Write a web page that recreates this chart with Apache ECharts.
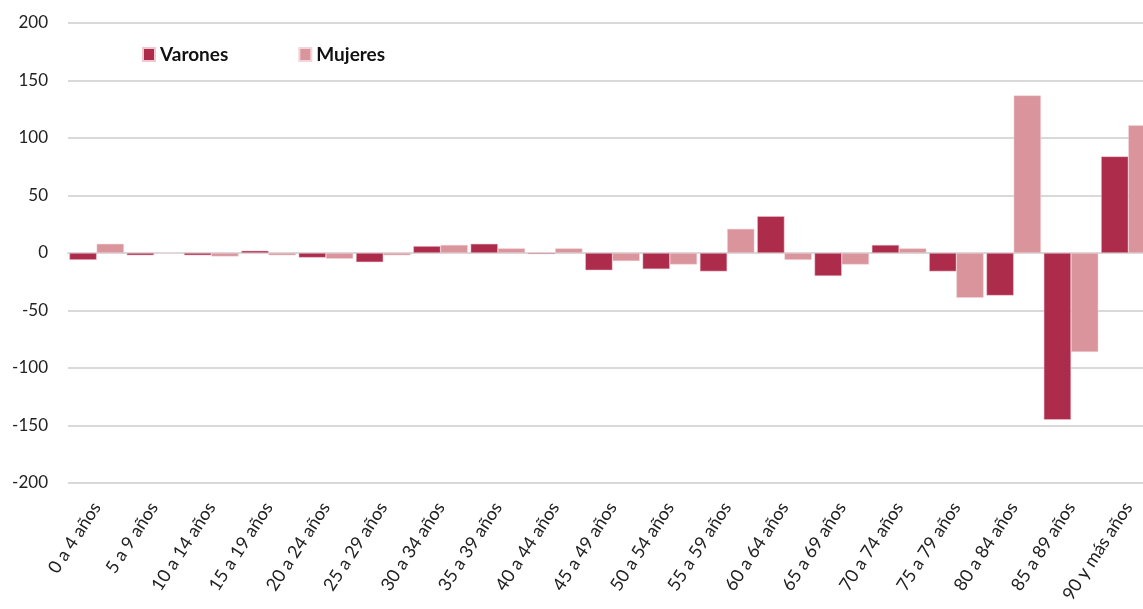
<!DOCTYPE html>
<html>
<head>
<meta charset="utf-8">
<script src="https://cdn.jsdelivr.net/npm/echarts@6/dist/echarts.min.js"></script>
<style>
html,body{margin:0;padding:0;background:#fff;}
#c{width:1143px;height:609px;}
</style>
</head>
<body>
<div id="c"></div>
<script>
const categories = ["0 a 4 años","5 a 9 años","10 a 14 años","15 a 19 años","20 a 24 años","25 a 29 años","30 a 34 años","35 a 39 años","40 a 44 años","45 a 49 años","50 a 54 años","55 a 59 años","60 a 64 años","65 a 69 años","70 a 74 años","75 a 79 años","80 a 84 años","85 a 89 años","90 y más años"];
const varones = [-6, -2, -2, 2, -4, -8, 6, 8, -1, -15, -14, -16, 32, -20, 7, -16, -37, -145, 84];
const mujeres = [8, 0, -3, -2, -5, -2, 7, 4, 4, -7, -10, 21, -6, -10, 4, -39, 137, -86, 111];
const yTicks = {min: -200, max: 200, interval: 50};

const chart = echarts.init(document.getElementById('c'));
chart.setOption({
  animation: false,
  textStyle: {fontFamily: 'Lato, "Open Sans", sans-serif'},
  grid: {left: 68, right: -14, top: 23, bottom: 126, containLabel: false, outerBoundsMode: 'none'},
  legend: {
    left: 137, top: 40,
    itemWidth: 12, itemHeight: 13, itemGap: 70,
    icon: 'rect',
    textStyle: {fontSize: 19, fontWeight: 'bold', color: '#111', fontFamily: 'Lato, sans-serif'},
    data: ['Varones', 'Mujeres']
  },
  xAxis: {
    type: 'category',
    data: categories,
    axisLine: {show: true, onZero: true, lineStyle: {color: '#d9d9d9', width: 2}},
    axisTick: {show: false},
    axisLabel: {rotate: 57, interval: 0, fontSize: 18, color: '#222', margin: 21, fontFamily: 'Lato, sans-serif'}
  },
  yAxis: {
    type: 'value',
    min: yTicks.min, max: yTicks.max, interval: yTicks.interval,
    axisLine: {show: false},
    axisTick: {show: false},
    axisLabel: {fontSize: 17, color: '#222', margin: 20, fontFamily: 'Lato, sans-serif'},
    splitLine: {lineStyle: {color: '#d9d9d9', width: 2}}
  },
  series: [
    {name: 'Varones', type: 'bar', data: varones, barGap: '0%', barCategoryGap: '5%',
     itemStyle: {color: '#ad2c4c', borderColor: '#f0c8d0', borderWidth: 0.5}},
    {name: 'Mujeres', type: 'bar', data: mujeres, barGap: '0%', barCategoryGap: '5%',
     itemStyle: {color: '#d9949c', borderColor: '#f3d4d8', borderWidth: 0.5}}
  ]
});
</script>
</body>
</html>
